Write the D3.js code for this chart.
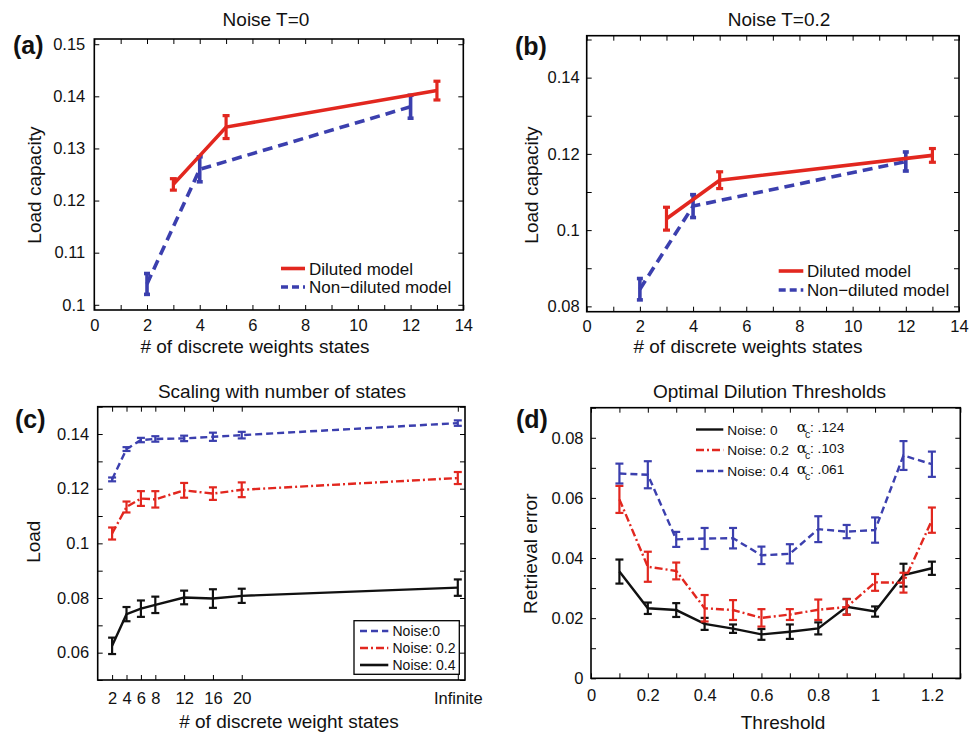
<!DOCTYPE html>
<html>
<head>
<meta charset="utf-8">
<script src="https://cdn.jsdelivr.net/npm/d3@7"></script>
<style>
body { margin: 0; background: #fff; }
svg { font-family: "Liberation Sans", Arial, Helvetica, sans-serif; }
</style>
</head>
<body>
<svg id="svg" width="978" height="734"></svg>
<script>
//colors
const RED = "#e2271f";
const BLUE = "#3b3fae";
const BLACK = "#111";

// ---- panel (a): Noise T=0
const statesDilutedA = [3, 5, 13];
const loadDilutedA = [0.1231, 0.1341, 0.1411];
const errDilutedA = [0.0011, 0.0022, 0.0018];
const statesNonDilutedA = [2, 4, 12];
const loadNonDilutedA = [0.104, 0.126, 0.138];
const errNonDilutedA = [0.002, 0.0024, 0.0022];
const yTicksA = [0.1, 0.11, 0.12, 0.13, 0.14, 0.15];
const yTickLabelsA = ["0.1", "0.11", "0.12", "0.13", "0.14", "0.15"];

// ---- panel (b): Noise T=0.2
const statesDilutedB = [3, 5, 13];
const loadDilutedB = [0.103, 0.1131, 0.1196];
const errDilutedB = [0.003, 0.0022, 0.0018];
const statesNonDilutedB = [2, 4, 12];
const loadNonDilutedB = [0.0845, 0.1063, 0.118];
const errNonDilutedB = [0.0028, 0.003, 0.0025];
const yTicksB = [0.08, 0.09, 0.1, 0.11, 0.12, 0.13, 0.14, 0.15];
const yTickLabelsB = ["0.08", "", "0.1", "", "0.12", "", "0.14", ""];

//shared x ticks for (a) and (b)
const xTicksAB = d3.range(0, 15);
const xTickLabelsAB = ["0", "", "2", "", "4", "", "6", "", "8", "", "10", "", "12", "", "14"];

// ---- panel (c): scaling with number of states
const statesC = [2, 4, 6, 8, 12, 16, 20, 50];
const statesLabelsC = ["2", "4", "6", "8", "12", "16", "20", "Infinite"];
const loadNoise0C = [0.1234, 0.1345, 0.1378, 0.1382, 0.1384, 0.139, 0.1396, 0.144];
const errNoise0C = [0.0007, 0.0007, 0.0008, 0.001, 0.001, 0.0015, 0.0012, 0.001];
const loadNoise02C = [0.1036, 0.1133, 0.1164, 0.1161, 0.1194, 0.1182, 0.1196, 0.1239];
const errNoise02C = [0.0022, 0.002, 0.0027, 0.003, 0.0027, 0.0023, 0.0027, 0.0022];
const loadNoise04C = [0.0625, 0.0741, 0.0761, 0.0775, 0.0802, 0.0798, 0.0808, 0.0838];
const errNoise04C = [0.003, 0.0026, 0.003, 0.003, 0.0025, 0.0034, 0.0026, 0.003];
const yTicksC = [0.05, 0.06, 0.07, 0.08, 0.09, 0.1, 0.11, 0.12, 0.13, 0.14, 0.15];
const yTickLabelsC = ["", "0.06", "", "0.08", "", "0.1", "", "0.12", "", "0.14", ""];

// ---- panel (d): optimal dilution thresholds
const thresholdsD = [0.1, 0.2, 0.3, 0.4, 0.5, 0.6, 0.7, 0.8, 0.9, 1.0, 1.1, 1.2];
const retrNoise0D = [0.0355, 0.0233, 0.0227, 0.0181, 0.0165, 0.0146, 0.0155, 0.0166, 0.0238, 0.0222, 0.0343, 0.0366];
const barNoise0D = [0.004, 0.0019, 0.0023, 0.002, 0.0014, 0.0018, 0.0024, 0.002, 0.0026, 0.0017, 0.0038, 0.0022];
const retrNoise02D = [0.0595, 0.0371, 0.0357, 0.0233, 0.0227, 0.0201, 0.0212, 0.0228, 0.0237, 0.0319, 0.0318, 0.0526];
const barNoise02D = [0.0045, 0.005, 0.0028, 0.0044, 0.0033, 0.0029, 0.0018, 0.0034, 0.0026, 0.0028, 0.0033, 0.0042];
const retrNoise04D = [0.0681, 0.0677, 0.0462, 0.0465, 0.0466, 0.0409, 0.0414, 0.0496, 0.0488, 0.0493, 0.0741, 0.0712];
const barNoise04D = [0.0033, 0.0045, 0.0025, 0.0035, 0.0034, 0.0029, 0.0032, 0.0043, 0.0022, 0.0042, 0.0048, 0.0042];
const alphaD = [".124", ".103", ".061"];
const xTicksD = d3.range(0, 14).map(i => i / 10);
const xTickLabelsD = ["0", "", "0.2", "", "0.4", "", "0.6", "", "0.8", "", "1", "", "1.2", ""];
const yTicksD = d3.range(0, 10).map(i => i / 100);
const yTickLabelsD = ["0", "", "0.02", "", "0.04", "", "0.06", "", "0.08", ""];

var svg = d3.select("#svg");

//create a panel: group translated to the frame, plus its scales
function makePanel(box, xDomain, yDomain) {
    var w = box.right - box.left;
    var h = box.bottom - box.top;
    var g = svg.append("g").attr("transform", "translate(" + box.left + "," + box.top + ")");
    var x = d3.scaleLinear().domain(xDomain).range([0, w]);
    var y = d3.scaleLinear().domain(yDomain).range([h, 0]);
    return {g, x, y, w, h};
}

//ticks inside the box on all four sides
function drawAxes(p, xTicks, xLabels, yTicks, yLabels, xPad, yPad) {
    var lab = (ticks, labels) => (v) => labels[ticks.indexOf(v)];
    p.g.append("g").attr("transform", "translate(0," + p.h + ")")
        .call(d3.axisBottom(p.x).tickValues(xTicks).tickSize(-5).tickPadding(xPad).tickFormat(lab(xTicks, xLabels)));
    p.g.append("g")
        .call(d3.axisTop(p.x).tickValues(xTicks).tickSize(-5).tickFormat(""));
    p.g.append("g")
        .call(d3.axisLeft(p.y).tickValues(yTicks).tickSize(-5).tickPadding(yPad).tickFormat(lab(yTicks, yLabels)));
    p.g.append("g").attr("transform", "translate(" + p.w + ",0)")
        .call(d3.axisRight(p.y).tickValues(yTicks).tickSize(-5).tickFormat(""));
    p.g.selectAll(".domain").remove();
    p.g.selectAll(".tick line").attr("stroke", "#000").attr("stroke-width", 1);
    p.g.selectAll(".tick text").attr("font-size", 16.5).attr("fill", "#111")
        .attr("font-family", "'Liberation Sans', Arial, sans-serif");
    p.g.append("rect")
        .attr("width", p.w).attr("height", p.h)
        .attr("fill", "none").attr("stroke", "#000").attr("stroke-width", 1.6);
}

//line with error bars
function drawSeries(p, xs, ys, errs, st) {
    var data = xs.map((v, i) => ({x: v, y: ys[i], e: errs[i]}));
    var line = d3.line().x(d => p.x(d.x)).y(d => p.y(d.y));
    p.g.append("path")
        .datum(data)
        .attr("d", line)
        .attr("fill", "none")
        .attr("stroke", st.color)
        .attr("stroke-width", st.width)
        .attr("stroke-dasharray", st.dash || null);

    var bars = p.g.append("g").attr("stroke", st.color).attr("stroke-width", st.barWidth);
    bars.selectAll(".ev").data(data).enter().append("line")
        .attr("x1", d => p.x(d.x)).attr("x2", d => p.x(d.x))
        .attr("y1", d => p.y(d.y - d.e)).attr("y2", d => p.y(d.y + d.e));
    [-1, 1].forEach(s => {
        bars.selectAll(".cap" + s).data(data).enter().append("line")
            .attr("x1", d => p.x(d.x) - st.cap).attr("x2", d => p.x(d.x) + st.cap)
            .attr("y1", d => p.y(d.y + s * d.e)).attr("y2", d => p.y(d.y + s * d.e));
    });
}

function addText(x, y, txt, opt) {
    opt = opt || {};
    var t = svg.append("text")
        .attr("x", x).attr("y", y)
        .attr("font-size", opt.size || 19)
        .attr("text-anchor", opt.anchor || "middle")
        .attr("fill", "#111")
        .text(txt);
    if (opt.bold) t.attr("font-weight", "bold");
    if (opt.rotate) t.attr("transform", "rotate(-90," + x + "," + y + ")");
    return t;
}

function legendLine(x1, x2, y, color, width, dash) {
    svg.append("line")
        .attr("x1", x1).attr("x2", x2).attr("y1", y).attr("y2", y)
        .attr("stroke", color).attr("stroke-width", width)
        .attr("stroke-dasharray", dash || null);
}

//styles
const dilutedStyle = {color: RED, width: 3.6, barWidth: 3.2, cap: 3.5};
const nonDilutedStyle = {color: BLUE, width: 3.6, dash: "10,6", barWidth: 3.6, cap: 3};
const noise0Style = {color: BLUE, width: 2.4, dash: "7,4", barWidth: 2.2, cap: 4};
const noise02Style = {color: RED, width: 2.4, dash: "8,3,2,3", barWidth: 2.2, cap: 4};
const noise04Style = {color: BLACK, width: 2.4, barWidth: 2.2, cap: 4};

// ---------------- (a)
var pa = makePanel({left: 94.3, right: 463.3, top: 39, bottom: 310}, [0, 14], [0.099, 0.151]);
drawAxes(pa, xTicksAB, xTickLabelsAB, yTicksA, yTickLabelsA, 9, 9);
drawSeries(pa, statesNonDilutedA, loadNonDilutedA, errNonDilutedA, nonDilutedStyle);
drawSeries(pa, statesDilutedA, loadDilutedA, errDilutedA, dilutedStyle);
legendLine(281, 305, 268.5, RED, 3.6);
legendLine(281, 305, 287, BLUE, 3.6, "7,4");
addText(309, 274.5, "Diluted model", {size: 17, anchor: "start"});
addText(309, 292.8, "Non\u2212diluted model", {size: 17, anchor: "start"});
addText(266, 25.5, "Noise T=0");
addText(255, 353, "# of discrete weights states");
addText(41, 185, "Load capacity", {rotate: true});
addText(13, 53.5, "(a)", {size: 25, bold: true, anchor: "start"});

// ---------------- (b)
var pb = makePanel({left: 586.7, right: 959, top: 35.7, bottom: 311.7}, [0, 14], [0.0786, 0.151]);
drawAxes(pb, xTicksAB, xTickLabelsAB, yTicksB, yTickLabelsB, 8.5, 7);
drawSeries(pb, statesNonDilutedB, loadNonDilutedB, errNonDilutedB, nonDilutedStyle);
drawSeries(pb, statesDilutedB, loadDilutedB, errDilutedB, dilutedStyle);
legendLine(778.7, 803.3, 271, RED, 3.6);
legendLine(778.7, 803.3, 290, BLUE, 3.6, "7,4");
addText(807, 277, "Diluted model", {size: 17, anchor: "start"});
addText(807, 296, "Non\u2212diluted model", {size: 17, anchor: "start"});
addText(779, 25.5, "Noise T=0.2");
addText(748, 353, "# of discrete weights states");
addText(538, 185, "Load capacity", {rotate: true});
addText(515, 55, "(b)", {size: 25, bold: true, anchor: "start"});

// ---------------- (c)
var pc = makePanel({left: 97.7, right: 465, top: 406.7, bottom: 680}, [0, 51], [0.05, 0.15]);
drawAxes(pc, statesC, statesLabelsC, yTicksC, yTickLabelsC, 12, 8.5);
drawSeries(pc, statesC, loadNoise04C, errNoise04C, noise04Style);
drawSeries(pc, statesC, loadNoise02C, errNoise02C, noise02Style);
drawSeries(pc, statesC, loadNoise0C, errNoise0C, noise0Style);
svg.append("rect")
    .attr("x", 354).attr("y", 620.7).attr("width", 105.3).attr("height", 53.6)
    .attr("fill", "#fff").attr("stroke", "#000").attr("stroke-width", 1.3);
legendLine(360, 388.3, 631, BLUE, 2.4, "7,4");
legendLine(360, 388.3, 648, RED, 2.4, "8,3,2,3");
legendLine(360, 388.3, 665, BLACK, 2.6);
addText(392.5, 636, "Noise:0", {size: 14, anchor: "start"});
addText(392.5, 653, "Noise: 0.2", {size: 14, anchor: "start"});
addText(392.5, 670, "Noise: 0.4", {size: 14, anchor: "start"});
addText(282, 398, "Scaling with number of states");
addText(289, 728, "# of discrete weight states");
addText(40, 541.7, "Load", {rotate: true});
addText(15, 428, "(c)", {size: 25, bold: true, anchor: "start"});

// ---------------- (d)
var pd = makePanel({left: 591, right: 960.3, top: 407.7, bottom: 678.3}, [0, 1.3], [0, 0.09]);
drawAxes(pd, xTicksD, xTickLabelsD, yTicksD, yTickLabelsD, 11, 7.5);
drawSeries(pd, thresholdsD, retrNoise0D, barNoise0D, noise04Style);
drawSeries(pd, thresholdsD, retrNoise02D, barNoise02D, noise02Style);
drawSeries(pd, thresholdsD, retrNoise04D, barNoise04D, noise0Style);
var legRows = [
    {y: 429.5, label: "Noise: 0", color: BLACK, dash: null},
    {y: 450, label: "Noise: 0.2", color: RED, dash: "8,3,2,3"},
    {y: 471, label: "Noise: 0.4", color: BLUE, dash: "7,4"}
];
legRows.forEach((r, i) => {
    legendLine(696, 723.3, r.y, r.color, 2.4, r.dash);
    addText(727.3, r.y + 5, r.label, {size: 13.7, anchor: "start"});
    var t = addText(796.7, r.y + 2.5, "\u03b1", {size: 15, anchor: "start"});
    t.attr("font-family", "'DejaVu Serif', serif");
    addText(805, r.y + 8.5, "c", {size: 10.5, anchor: "start"});
    addText(810, r.y + 2.5, ": " + alphaD[i], {size: 13.7, anchor: "start"});
});
addText(769.5, 398, "Optimal Dilution Thresholds");
addText(783, 729, "Threshold");
addText(537, 553.7, "Retrieval error", {rotate: true});
addText(516, 428, "(d)", {size: 25, bold: true, anchor: "start"});
</script>
</body>
</html>
